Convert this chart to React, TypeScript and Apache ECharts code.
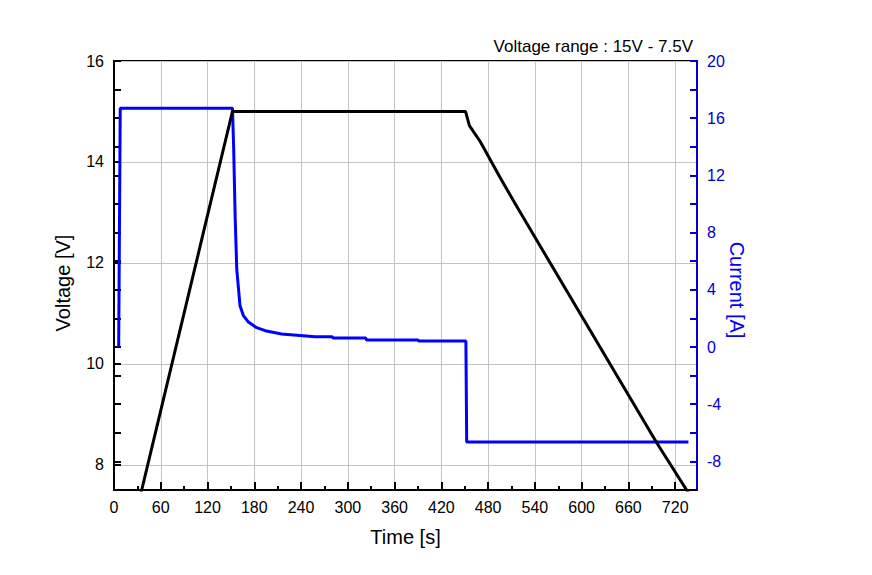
import React, { useEffect, useRef } from "react";
import * as echarts from "echarts";

const FONT = "'Liberation Sans', Arial, sans-serif";

// Voltage [V] vs time [s]
const voltageData: [number, number][] = [
  [34, 7.4], [112.5, 12.46], [152, 15.0], [300, 15.0], [451, 15.0],
  [456, 14.72], [470, 14.4], [495, 13.7], [517, 13.11],
  [696.5, 8.43], [742, 7.32],
];

// Current [A] vs time [s]
const currentData: [number, number][] = [
  [6, 0], [8, 16.7], [152, 16.7], [153.5, 14], [155.5, 9], [157.5, 5.44],
  [161.7, 2.88], [166, 2.2], [172.4, 1.74], [183, 1.35], [194, 1.14],
  [215, 0.91], [258, 0.72], [280, 0.72], [281, 0.63], [323, 0.63],
  [324, 0.49], [390, 0.49], [391, 0.42], [451.5, 0.42], [452.5, -6.65],
  [737, -6.65],
];

const xMinorTicks = [30, 90, 150, 210, 270, 330, 390, 450, 510, 570, 630, 690];
const currentLabels = [-8, -4, 0, 4, 8, 12, 16, 20];
const currentTicks = [-8, -6, -4, -2, 0, 2, 4, 6, 8, 10, 12, 14, 16, 18, 20];

export default function App() {
  const ref = useRef<HTMLDivElement>(null);
  useEffect(() => {
    if (!ref.current) return;
    const chart = echarts.init(ref.current, null, { renderer: "svg" });
    const blueAxis = "#0000cc";
    chart.setOption({
      animation: false,
      backgroundColor: "#ffffff",
      grid: {
        left: 114, right: 175, top: 61, bottom: 85,
        show: true, borderColor: "#000", borderWidth: 2, backgroundColor: "transparent",
      },
      xAxis: [
        {
          type: "value", min: 0, max: 748, interval: 60, position: "bottom",
          axisLine: { show: true, onZero: false, lineStyle: { color: "#000", width: 2 } },
          axisTick: { show: true, inside: true, length: 8, lineStyle: { color: "#000", width: 2 } },
          axisLabel: { show: true, color: "#000", fontSize: 16, fontFamily: FONT, margin: 9, showMaxLabel: false },
          splitLine: { show: true, lineStyle: { color: "#c4c4c4", width: 1 } },
        },
        {
          type: "value", min: 0, max: 748, position: "bottom",
          axisLine: { show: false, onZero: false },
          axisTick: { show: true, inside: true, length: 4, customValues: xMinorTicks, lineStyle: { color: "#000", width: 2 } },
          axisLabel: { show: false },
          splitLine: { show: false },
        },
      ],
      yAxis: [
        {
          type: "value", min: 7.5, max: 16, splitNumber: 4, position: "left",
          axisLine: { show: true, onZero: false, lineStyle: { color: "#000", width: 2 } },
          axisTick: { show: true, inside: true, length: 7, lineStyle: { color: "#000", width: 2 } },
          axisLabel: { show: true, color: "#000", fontSize: 16, fontFamily: FONT, margin: 10, showMinLabel: false },
          splitLine: { show: true, lineStyle: { color: "#c4c4c4", width: 1 } },
        },
        {
          type: "value", min: -10, max: 20, position: "right",
          axisLine: { show: true, onZero: false, lineStyle: { color: blueAxis, width: 2 } },
          axisTick: { show: true, inside: true, length: 7, customValues: currentTicks, lineStyle: { color: blueAxis, width: 2 } },
          axisLabel: { show: true, color: blueAxis, fontSize: 16, fontFamily: FONT, margin: 10, customValues: currentLabels },
          splitLine: { show: false },
        },
        {
          type: "value", min: -10, max: 20, position: "left",
          axisLine: { show: false, onZero: false },
          axisTick: { show: true, inside: true, length: 7, customValues: currentTicks, lineStyle: { color: "#000", width: 2 } },
          axisLabel: { show: false },
          splitLine: { show: false },
        },
      ],
      series: [
        {
          name: "Current", type: "line", xAxisIndex: 0, yAxisIndex: 1, data: currentData,
          showSymbol: false, symbol: "none", lineStyle: { color: "#0000ff", width: 3 }, z: 3,
        },
        {
          name: "Voltage", type: "line", xAxisIndex: 0, yAxisIndex: 0, data: voltageData,
          showSymbol: false, symbol: "none", lineStyle: { color: "#000000", width: 3 }, z: 4,
        },
      ],
      graphic: [
        {
          type: "text", x: 693, y: 46,
          style: { text: "Voltage range : 15V - 7.5V", fill: "#000", font: `17px ${FONT}`, align: "right", verticalAlign: "middle" },
        },
        {
          type: "text", x: 405.5, y: 537,
          style: { text: "Time [s]", fill: "#000", font: `20px ${FONT}`, align: "center", verticalAlign: "middle" },
        },
        {
          type: "text", x: 63, y: 283, rotation: Math.PI / 2,
          style: { text: "Voltage [V]", fill: "#000", font: `20px ${FONT}`, align: "center", verticalAlign: "middle" },
        },
        {
          type: "text", x: 737, y: 290, rotation: -Math.PI / 2,
          style: { text: "Current [A]", fill: "#0000ff", font: `20px ${FONT}`, align: "center", verticalAlign: "middle" },
        },
      ],
    });
    return () => chart.dispose();
  }, []);
  return <div ref={ref} style={{ position: "fixed", left: 0, top: 0, width: 872, height: 575 }} />;
}
